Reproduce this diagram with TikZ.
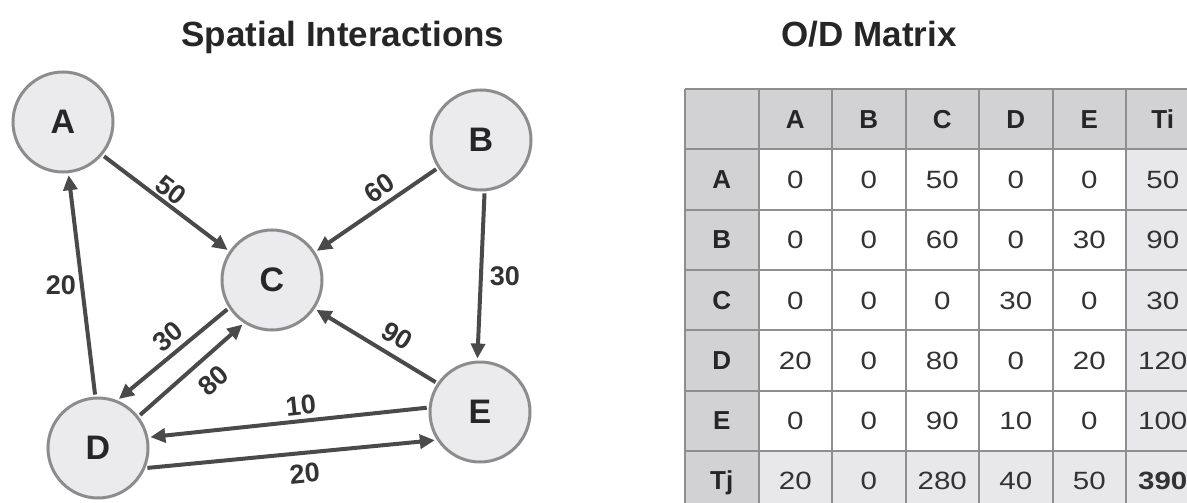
\documentclass[tikz,border=0pt]{standalone}
\usepackage{fontspec}
\setmainfont{Liberation Sans}
\newfontfamily\widesans[FakeStretch=1.18]{Liberation Sans}
\usetikzlibrary{arrows.meta}
\definecolor{ringgray}{HTML}{8C8C8C}
\definecolor{discfill}{HTML}{EBEBED}
\definecolor{flowgray}{HTML}{4A4A4A}
\definecolor{hdrgray}{HTML}{D2D2D5}
\definecolor{totgray}{HTML}{E8E8EA}
\definecolor{gridgray}{HTML}{8E8E8E}
\definecolor{inkgray}{HTML}{333333}
\tikzset{
zone/.style={circle,draw=ringgray,line width=3pt,fill=discfill,minimum size=100pt,inner sep=0pt,font=\fontsize{34}{34}\selectfont\bfseries,text=black!85},
flow/.style={draw=flowgray,line width=4pt,-{Triangle[length=15pt,width=14pt]},shorten >=2pt,shorten <=2pt},
amount/.style={font=\fontsize{27}{27}\selectfont\bfseries,text=inkgray,inner sep=4pt},
heading/.style={font=\fontsize{35}{35}\selectfont\bfseries,text=black!85,anchor=base},
cellnum/.style={font=\widesans\fontsize{25}{25}\selectfont,text=inkgray,text height=18pt,text depth=0pt},
cellhead/.style={font=\fontsize{26}{26}\selectfont\bfseries,text=black!85,text height=18pt,text depth=0pt},
gridline/.style={draw=gridgray,line width=2pt}
}
\begin{document}
\begin{tikzpicture}[x=1pt,y=-1pt]
\useasboundingbox (0,0) rectangle (1187,503);
\node[heading] (ttlflow) at (343,47) {Spatial Interactions};
\node[heading] (ttlmat) at (869,47) {O/D Matrix};

\node[zone] (A) at (63,122) {A};
\node[zone] (B) at (481,140) {B};
\node[zone] (C) at (272,280) {C};
\node[zone] (D) at (98,448) {D};
\node[zone] (E) at (480,412) {E};

\draw[flow] (A.-40) -- (C.146) node[amount,pos=0.48,sloped,above,inner sep=2pt] {50};
\draw[flow] (B.213) -- (C.33) node[amount,pos=0.4,sloped,above,inner sep=5pt] {60};
\draw[flow] (B.-86) -- (E.93) node[amount,midway,right,inner sep=7pt] {30};
\draw[flow] (D.93) -- (A.-84) node[amount,midway,left,inner sep=4pt] {20};
\draw[flow] (C.213) -- (D.68) node[amount,pos=0.45,sloped,above,inner sep=5pt] {30};
\draw[flow] (D.38) -- (C.237) node[amount,pos=0.57,sloped,below,inner sep=11pt] {80};
\draw[flow] (E.146) -- (C.-34) node[amount,pos=0.41,sloped,above,inner sep=8pt] {90};
\draw[flow] (E.175) -- (D.12) node[amount,pos=0.45,sloped,above,inner sep=4pt] {10};
\draw[flow] (D.-23) -- (E.213) node[amount,pos=0.54,sloped,below,inner sep=9pt] {20};

% O/D matrix
\begin{scope}
\clip (0,0) rectangle (1187,503);
\fill[hdrgray] (685,89) rectangle (1200,149.3);
\fill[hdrgray] (685,149.3) rectangle (758.5,520);
\fill[totgray] (1126,149.3) rectangle (1200,520);
\fill[totgray] (758.5,450.8) rectangle (1126,520);
\foreach \c in {0,...,7}{
	\draw[gridline] (685+73.5*\c,89) -- (685+73.5*\c,520);
}
\foreach \r in {0,...,7}{
	\draw[gridline] (685,89+60.3*\r) -- (1200,89+60.3*\r);
}
\foreach \t [count=\c] in {A,B,C,D,E,Ti}{
	\node[cellhead] (top-\c) at (721.75+73.5*\c,119.15) {\t};
}
\foreach \t [count=\r] in {A,B,C,D,E,Tj}{
	\node[cellhead] (side-\r) at (721.75,119.15+60.3*\r) {\t};
}
\foreach \vals [count=\r] in {{0,0,50,0,0,50},{0,0,60,0,30,90},{0,0,0,30,0,30},{20,0,80,0,20,120},{0,0,90,10,0,100},{20,0,280,40,50,\textbf{390}}}{
	\foreach \v [count=\c] in \vals{
		\node[cellnum] (val-\r-\c) at (721.75+73.5*\c,119.15+60.3*\r) {\v};
	}
}
\end{scope}
\end{tikzpicture}
\end{document}
